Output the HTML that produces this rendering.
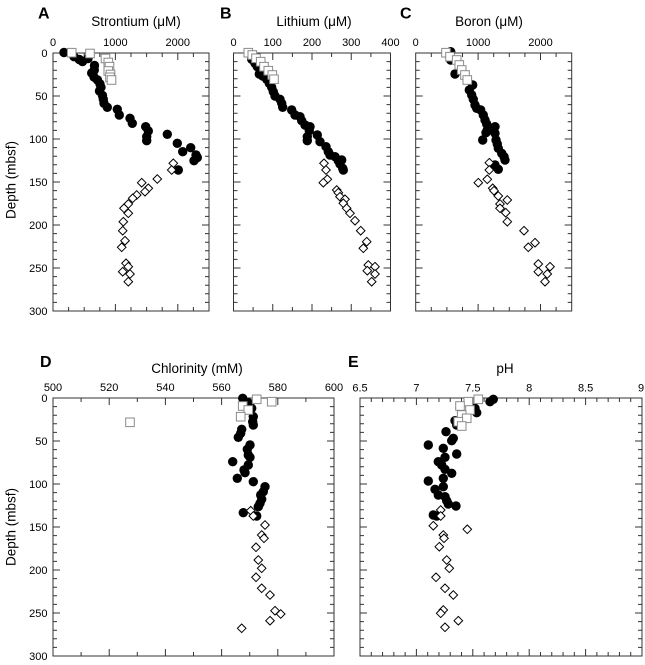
<!DOCTYPE html>
<html><head><meta charset="utf-8"><style>
body{margin:0;background:#fff}
svg{display:block}
text{font-family:"Liberation Sans",Arial,sans-serif;fill:#000}
.t{font-size:11px;text-anchor:middle}
.yl{font-size:11px;text-anchor:end}
.ax{font-size:13.5px;text-anchor:middle}
.pl{font-size:16px;font-weight:bold}
</style></head><body>
<svg width="645" height="665" viewBox="0 0 645 665">
<defs>
<path id="yt" fill="none" stroke="#333" stroke-width="1" d="M0 0h7M0 8.6h4M0 17.2h4M0 25.8h4M0 34.4h4M0 43h7M0 51.6h4M0 60.2h4M0 68.8h4M0 77.4h4M0 86h7M0 94.6h4M0 103.2h4M0 111.8h4M0 120.4h4M0 129h7M0 137.6h4M0 146.2h4M0 154.8h4M0 163.4h4M0 172h7M0 180.6h4M0 189.2h4M0 197.8h4M0 206.4h4M0 215h7M0 223.6h4M0 232.2h4M0 240.8h4M0 249.4h4M0 258h7"/>
<path id="xA" fill="none" stroke="#333" stroke-width="1" d="M15.6 0v4M31.2 0v4M46.8 0v4M62.4 0v7M78 0v4M93.6 0v4M109.2 0v4M124.8 0v7M140.4 0v4"/>
<path id="xB" fill="none" stroke="#333" stroke-width="1" d="M19.6 0v4M39.25 0v7M58.9 0v4M78.5 0v7M98.1 0v4M117.75 0v7M137.4 0v4"/>
<path id="xD" fill="none" stroke="#333" stroke-width="1" d="M28.1 0v4M56.2 0v7M84.3 0v4M112.4 0v7M140.5 0v4M168.6 0v7M196.7 0v4M224.8 0v7M252.9 0v4"/>
<path id="xE" fill="none" stroke="#333" stroke-width="1" d="M11.28 0v4M22.56 0v4M33.84 0v4M45.12 0v4M56.4 0v7M67.68 0v4M78.96 0v4M90.24 0v4M101.52 0v4M112.8 0v7M124.08 0v4M135.36 0v4M146.64 0v4M157.92 0v4M169.2 0v7M180.48 0v4M191.76 0v4M203.04 0v4M214.32 0v4M225.6 0v7M236.88 0v4M248.16 0v4M259.44 0v4M270.72 0v4"/>
<path id="dm" d="M0 -4.3L4.3 0L0 4.3L-4.3 0Z" fill="#fff" stroke="#000" stroke-width="1"/>
<rect id="sq" x="-4.3" y="-4.3" width="8.6" height="8.6" fill="#fff" stroke="#8a8a8a" stroke-width="1"/>
</defs>

<!-- Panel labels & titles -->
<text class="pl" x="38" y="18.5">A</text>
<text class="pl" x="220" y="18.5">B</text>
<text class="pl" x="400" y="18.5">C</text>
<text class="pl" x="40" y="367">D</text>
<text class="pl" x="348" y="367">E</text>
<text class="ax" x="136" y="26">Strontium (μM)</text>
<text class="ax" x="314" y="26">Lithium (μM)</text>
<text class="ax" x="489" y="26">Boron (μM)</text>
<text class="ax" x="197" y="373">Chlorinity (mM)</text>
<text class="ax" x="505" y="373">pH</text>
<text class="ax" transform="translate(15.5,180) rotate(-90)">Depth (mbsf)</text>
<text class="ax" transform="translate(15.5,527) rotate(-90)">Depth (mbsf)</text>

<!-- Tick labels top row -->
<text class="t" x="53" y="46">0</text><text class="t" x="115.4" y="46">1000</text><text class="t" x="177.8" y="46">2000</text>
<text class="t" x="233.5" y="46">0</text><text class="t" x="272.75" y="46">100</text><text class="t" x="312" y="46">200</text><text class="t" x="351.25" y="46">300</text><text class="t" x="390.5" y="46">400</text>
<text class="t" x="415.7" y="46">0</text><text class="t" x="478.1" y="46">1000</text><text class="t" x="540.5" y="46">2000</text>
<text class="yl" x="47.5" y="57">0</text><text class="yl" x="47.5" y="100">50</text><text class="yl" x="47.5" y="143">100</text><text class="yl" x="47.5" y="186">150</text><text class="yl" x="47.5" y="229">200</text><text class="yl" x="47.5" y="272">250</text><text class="yl" x="47.5" y="315">300</text>
<!-- Tick labels bottom row -->
<text class="t" x="53" y="391">500</text><text class="t" x="109.2" y="391">520</text><text class="t" x="165.4" y="391">540</text><text class="t" x="221.6" y="391">560</text><text class="t" x="277.8" y="391">580</text><text class="t" x="334" y="391">600</text>
<text class="t" x="360" y="391.5">6.5</text><text class="t" x="416.4" y="391.5">7</text><text class="t" x="472.8" y="391.5">7.5</text><text class="t" x="529.2" y="391.5">8</text><text class="t" x="585.6" y="391.5">8.5</text><text class="t" x="641" y="391.5">9</text>
<text class="yl" x="47.5" y="402">0</text><text class="yl" x="47.5" y="445">50</text><text class="yl" x="47.5" y="488">100</text><text class="yl" x="47.5" y="531">150</text><text class="yl" x="47.5" y="574">200</text><text class="yl" x="47.5" y="617">250</text><text class="yl" x="47.5" y="660">300</text>

<!-- Frames & ticks -->
<g fill="none" stroke="#333" stroke-width="1">
<rect x="53" y="53" width="156" height="258"/>
<rect x="233.5" y="53" width="157" height="258"/>
<rect x="415.7" y="53" width="156" height="258"/>
<rect x="53" y="398" width="281" height="258"/>
<rect x="360" y="398" width="282" height="258"/>
</g>
<use href="#yt" transform="translate(53,53)"/><use href="#yt" transform="translate(209,53) scale(-1,1)"/>
<use href="#xA" transform="translate(53,53)"/><use href="#xA" transform="translate(53,311) scale(1,-1)"/>
<use href="#yt" transform="translate(233.5,53)"/><use href="#yt" transform="translate(390.5,53) scale(-1,1)"/>
<use href="#xB" transform="translate(233.5,53)"/><use href="#xB" transform="translate(233.5,311) scale(1,-1)"/>
<use href="#yt" transform="translate(415.7,53)"/><use href="#yt" transform="translate(571.7,53) scale(-1,1)"/>
<use href="#xA" transform="translate(415.7,53)"/><use href="#xA" transform="translate(415.7,311) scale(1,-1)"/>
<use href="#yt" transform="translate(53,398)"/><use href="#yt" transform="translate(334,398) scale(-1,1)"/>
<use href="#xD" transform="translate(53,398)"/><use href="#xD" transform="translate(53,656) scale(1,-1)"/>
<use href="#yt" transform="translate(360,398)"/><use href="#yt" transform="translate(642,398) scale(-1,1)"/>
<use href="#xE" transform="translate(360,398)"/><use href="#xE" transform="translate(360,656) scale(1,-1)"/>

<!-- Panel A data -->
<g fill="#000">
<circle cx="64" cy="52.5" r="4.7"/><circle cx="74" cy="56.7" r="4.7"/><circle cx="79.3" cy="59.5" r="4.7"/><circle cx="82.5" cy="61.5" r="4.7"/><circle cx="88" cy="58.5" r="4.7"/><circle cx="94.5" cy="65.5" r="4.7"/><circle cx="94.3" cy="70" r="4.7"/><circle cx="91.7" cy="73" r="4.7"/><circle cx="94" cy="77" r="4.7"/><circle cx="97.5" cy="80" r="4.7"/><circle cx="100" cy="84" r="4.7"/><circle cx="101" cy="87.3" r="4.7"/><circle cx="99.5" cy="91" r="4.7"/><circle cx="102.5" cy="95.5" r="4.7"/><circle cx="103.3" cy="99.3" r="4.7"/><circle cx="104" cy="103.3" r="4.7"/><circle cx="107.3" cy="107.3" r="4.7"/><circle cx="117.3" cy="109.3" r="4.7"/><circle cx="119.3" cy="115" r="4.7"/><circle cx="130" cy="118.3" r="4.7"/><circle cx="132.3" cy="123.3" r="4.7"/><circle cx="145.7" cy="126.7" r="4.7"/><circle cx="148.3" cy="131" r="4.7"/><circle cx="146.7" cy="136.7" r="4.7"/><circle cx="146.7" cy="140.7" r="4.7"/><circle cx="167.3" cy="134.3" r="4.7"/><circle cx="177.3" cy="143.3" r="4.7"/><circle cx="182.7" cy="151.7" r="4.7"/><circle cx="190.7" cy="147.7" r="4.7"/><circle cx="196" cy="155" r="4.7"/><circle cx="197.3" cy="157.5" r="4.7"/><circle cx="194" cy="160.7" r="4.7"/><circle cx="178.3" cy="170" r="4.7"/>
</g>
<use href="#dm" x="173.3" y="163.3"/><use href="#dm" x="171.7" y="170"/><use href="#dm" x="157.3" y="179"/><use href="#dm" x="141.7" y="182.7"/><use href="#dm" x="148.3" y="188.3"/><use href="#dm" x="145" y="191.7"/><use href="#dm" x="136.7" y="195"/><use href="#dm" x="132.7" y="198.3"/><use href="#dm" x="128.3" y="204"/><use href="#dm" x="124" y="208.3"/><use href="#dm" x="128.3" y="213.3"/><use href="#dm" x="123.3" y="221.7"/><use href="#dm" x="122.7" y="230.7"/><use href="#dm" x="125" y="240.7"/><use href="#dm" x="121.7" y="247.3"/><use href="#dm" x="126" y="263.3"/><use href="#dm" x="128.3" y="266.7"/><use href="#dm" x="122.7" y="271.7"/><use href="#dm" x="130" y="274"/><use href="#dm" x="128.3" y="281.7"/>
<use href="#sq" x="71.7" y="52.7"/><use href="#sq" x="90" y="53.5"/><use href="#sq" x="105.5" y="58.5"/><use href="#sq" x="108.3" y="62.5"/><use href="#sq" x="109.5" y="66.7"/><use href="#sq" x="108.3" y="71"/><use href="#sq" x="110.5" y="74.5"/><use href="#sq" x="110" y="77.3"/><use href="#sq" x="111.5" y="80"/>

<!-- Panel B data -->
<g fill="#000">
<circle cx="251.7" cy="59.3" r="4.7"/><circle cx="255" cy="63.3" r="4.7"/><circle cx="257.3" cy="66.7" r="4.7"/><circle cx="259.3" cy="74" r="4.7"/><circle cx="262.7" cy="76" r="4.7"/><circle cx="266.7" cy="79.3" r="4.7"/><circle cx="269.3" cy="83.3" r="4.7"/><circle cx="271.7" cy="87.3" r="4.7"/><circle cx="273.3" cy="91.7" r="4.7"/><circle cx="275" cy="96" r="4.7"/><circle cx="280" cy="99.3" r="4.7"/><circle cx="281.7" cy="103.3" r="4.7"/><circle cx="282.7" cy="107.3" r="4.7"/><circle cx="291.7" cy="110" r="4.7"/><circle cx="295" cy="115" r="4.7"/><circle cx="300" cy="116.7" r="4.7"/><circle cx="301.7" cy="120.7" r="4.7"/><circle cx="305" cy="125" r="4.7"/><circle cx="310" cy="126.7" r="4.7"/><circle cx="309.3" cy="130.7" r="4.7"/><circle cx="307.3" cy="136.7" r="4.7"/><circle cx="307.3" cy="140.7" r="4.7"/><circle cx="317.3" cy="135" r="4.7"/><circle cx="320" cy="141.7" r="4.7"/><circle cx="326" cy="146.7" r="4.7"/><circle cx="328.3" cy="151.7" r="4.7"/><circle cx="330" cy="155" r="4.7"/><circle cx="335" cy="156.7" r="4.7"/><circle cx="338.3" cy="160.7" r="4.7"/><circle cx="341.7" cy="160" r="4.7"/><circle cx="340" cy="164" r="4.7"/><circle cx="342.7" cy="168.3" r="4.7"/><circle cx="343.3" cy="170" r="4.7"/>
</g>
<use href="#dm" x="324" y="163.3"/><use href="#dm" x="326" y="170"/><use href="#dm" x="327.3" y="179.3"/><use href="#dm" x="323.3" y="182.7"/><use href="#dm" x="336.7" y="190"/><use href="#dm" x="338.3" y="192.7"/><use href="#dm" x="340" y="196.7"/><use href="#dm" x="345" y="199.3"/><use href="#dm" x="343.3" y="203.3"/><use href="#dm" x="346.7" y="208.3"/><use href="#dm" x="350" y="213.3"/><use href="#dm" x="355" y="220.7"/><use href="#dm" x="360.7" y="230.7"/><use href="#dm" x="366.7" y="241.7"/><use href="#dm" x="363.3" y="248.3"/><use href="#dm" x="368.3" y="265"/><use href="#dm" x="375" y="266.7"/><use href="#dm" x="367.3" y="270.7"/><use href="#dm" x="375" y="274"/><use href="#dm" x="371.7" y="281.7"/>
<use href="#sq" x="248.3" y="52.7"/><use href="#sq" x="252.3" y="55"/><use href="#sq" x="256" y="58.3"/><use href="#sq" x="260.7" y="61.7"/><use href="#sq" x="264" y="66.7"/><use href="#sq" x="268.3" y="70.7"/><use href="#sq" x="272.3" y="75"/><use href="#sq" x="274" y="79.3"/>

<!-- Panel C data -->
<g fill="#000">
<circle cx="450.7" cy="51.7" r="4.7"/><circle cx="450.7" cy="60" r="4.7"/><circle cx="455" cy="74" r="4.7"/><circle cx="472.7" cy="85" r="4.7"/><circle cx="469.3" cy="90" r="4.7"/><circle cx="471.7" cy="95" r="4.7"/><circle cx="473.3" cy="99.3" r="4.7"/><circle cx="475" cy="105" r="4.7"/><circle cx="476.7" cy="108.3" r="4.7"/><circle cx="480.7" cy="110" r="4.7"/><circle cx="483.3" cy="115" r="4.7"/><circle cx="485" cy="120" r="4.7"/><circle cx="486.7" cy="124" r="4.7"/><circle cx="487.3" cy="130" r="4.7"/><circle cx="486" cy="132.7" r="4.7"/><circle cx="482.7" cy="140" r="4.7"/><circle cx="495" cy="126.7" r="4.7"/><circle cx="495" cy="133.3" r="4.7"/><circle cx="496" cy="140" r="4.7"/><circle cx="497.3" cy="144" r="4.7"/><circle cx="498.3" cy="148.3" r="4.7"/><circle cx="501.7" cy="153.3" r="4.7"/><circle cx="504" cy="156.7" r="4.7"/><circle cx="505" cy="160" r="4.7"/><circle cx="495" cy="165" r="4.7"/><circle cx="498.3" cy="169.3" r="4.7"/>
</g>
<use href="#dm" x="489.3" y="162.7"/><use href="#dm" x="489.3" y="170"/><use href="#dm" x="487.3" y="179.3"/><use href="#dm" x="478.3" y="182.7"/><use href="#dm" x="492.7" y="188.3"/><use href="#dm" x="494" y="190.7"/><use href="#dm" x="498.3" y="196"/><use href="#dm" x="507.3" y="200"/><use href="#dm" x="500" y="204"/><use href="#dm" x="500" y="208.3"/><use href="#dm" x="505.7" y="212.7"/><use href="#dm" x="507.3" y="221.7"/><use href="#dm" x="524" y="230.7"/><use href="#dm" x="535" y="242.7"/><use href="#dm" x="528.3" y="247.3"/><use href="#dm" x="538.3" y="264"/><use href="#dm" x="550" y="266.7"/><use href="#dm" x="538.3" y="271.7"/><use href="#dm" x="547.3" y="274"/><use href="#dm" x="545" y="281.7"/>
<use href="#sq" x="446" y="52.7"/><use href="#sq" x="450" y="56.7"/><use href="#sq" x="456.7" y="60"/><use href="#sq" x="459.3" y="65"/><use href="#sq" x="461.7" y="70"/><use href="#sq" x="465" y="75"/><use href="#sq" x="467.3" y="80"/>

<!-- Panel D data -->
<g fill="#000">
<circle cx="242.7" cy="398.3" r="4.7"/><circle cx="248.3" cy="402.7" r="4.7"/><circle cx="251.7" cy="408.3" r="4.7"/><circle cx="253.3" cy="416.7" r="4.7"/><circle cx="252.7" cy="421.7" r="4.7"/><circle cx="253.3" cy="425" r="4.7"/><circle cx="241.7" cy="429.3" r="4.7"/><circle cx="240.7" cy="433.3" r="4.7"/><circle cx="238.3" cy="437.3" r="4.7"/><circle cx="250" cy="445" r="4.7"/><circle cx="247.3" cy="449.3" r="4.7"/><circle cx="248.3" cy="455" r="4.7"/><circle cx="250" cy="457.3" r="4.7"/><circle cx="232.7" cy="461.7" r="4.7"/><circle cx="248.3" cy="465" r="4.7"/><circle cx="244" cy="470" r="4.7"/><circle cx="245" cy="472.7" r="4.7"/><circle cx="237.3" cy="478.3" r="4.7"/><circle cx="253.3" cy="481.7" r="4.7"/><circle cx="265" cy="486.7" r="4.7"/><circle cx="263.3" cy="491.7" r="4.7"/><circle cx="260.7" cy="495" r="4.7"/><circle cx="261.7" cy="499.3" r="4.7"/><circle cx="260" cy="503.3" r="4.7"/><circle cx="258.3" cy="506.7" r="4.7"/><circle cx="243.3" cy="512.7" r="4.7"/><circle cx="256.7" cy="516" r="4.7"/>
</g>
<use href="#dm" x="250.7" y="510.7"/><use href="#dm" x="253.3" y="516"/><use href="#dm" x="265" y="525"/><use href="#dm" x="261.7" y="535"/><use href="#dm" x="264" y="538.3"/><use href="#dm" x="256" y="547.3"/><use href="#dm" x="258.3" y="560"/><use href="#dm" x="261.7" y="568.3"/><use href="#dm" x="256" y="577.3"/><use href="#dm" x="261.7" y="588.3"/><use href="#dm" x="270" y="595"/><use href="#dm" x="275" y="610.7"/><use href="#dm" x="280.7" y="614"/><use href="#dm" x="270" y="620.7"/><use href="#dm" x="241.7" y="628.3"/>
<use href="#sq" x="256.7" y="399.3"/><use href="#sq" x="271.7" y="401.7"/><use href="#sq" x="242.7" y="406"/><use href="#sq" x="248.3" y="410"/><use href="#sq" x="240.7" y="416.7"/><use href="#sq" x="130" y="422.3"/>

<!-- Panel E data -->
<g fill="#000">
<circle cx="493.3" cy="399.3" r="4.7"/><circle cx="490" cy="401.7" r="4.7"/><circle cx="475" cy="408.3" r="4.7"/><circle cx="476.7" cy="412.7" r="4.7"/><circle cx="455" cy="420.7" r="4.7"/><circle cx="456.7" cy="425" r="4.7"/><circle cx="446" cy="431.7" r="4.7"/><circle cx="453.3" cy="438.3" r="4.7"/><circle cx="451.7" cy="440.7" r="4.7"/><circle cx="428.3" cy="445" r="4.7"/><circle cx="443.3" cy="448.3" r="4.7"/><circle cx="456.7" cy="454" r="4.7"/><circle cx="445" cy="457.3" r="4.7"/><circle cx="438.3" cy="461.7" r="4.7"/><circle cx="441.7" cy="465" r="4.7"/><circle cx="445" cy="469.3" r="4.7"/><circle cx="451.7" cy="473.3" r="4.7"/><circle cx="443.3" cy="478.3" r="4.7"/><circle cx="428.3" cy="481" r="4.7"/><circle cx="443.3" cy="486.7" r="4.7"/><circle cx="435" cy="489.3" r="4.7"/><circle cx="438.3" cy="495" r="4.7"/><circle cx="445" cy="496.7" r="4.7"/><circle cx="446.7" cy="500.7" r="4.7"/><circle cx="448.3" cy="504" r="4.7"/><circle cx="456" cy="506" r="4.7"/><circle cx="433.3" cy="515" r="4.7"/><circle cx="436.7" cy="516" r="4.7"/>
</g>
<use href="#dm" x="440.7" y="510"/><use href="#dm" x="440.7" y="516"/><use href="#dm" x="433.3" y="525.7"/><use href="#dm" x="467.3" y="529.3"/><use href="#dm" x="443.3" y="535"/><use href="#dm" x="444" y="538.3"/><use href="#dm" x="439.3" y="546.7"/><use href="#dm" x="446.7" y="560"/><use href="#dm" x="449.3" y="568.3"/><use href="#dm" x="436" y="577.3"/><use href="#dm" x="445" y="588.3"/><use href="#dm" x="453.3" y="595"/><use href="#dm" x="443.3" y="610"/><use href="#dm" x="440.7" y="613.3"/><use href="#dm" x="458.3" y="620.7"/><use href="#dm" x="445" y="627.3"/>
<use href="#sq" x="478.3" y="399.3"/><use href="#sq" x="468.3" y="401.7"/><use href="#sq" x="460" y="406"/><use href="#sq" x="470" y="410"/><use href="#sq" x="461.7" y="415"/><use href="#sq" x="466.7" y="418.3"/><use href="#sq" x="458.3" y="421.7"/><use href="#sq" x="461.7" y="426"/>
</svg>
</body></html>
